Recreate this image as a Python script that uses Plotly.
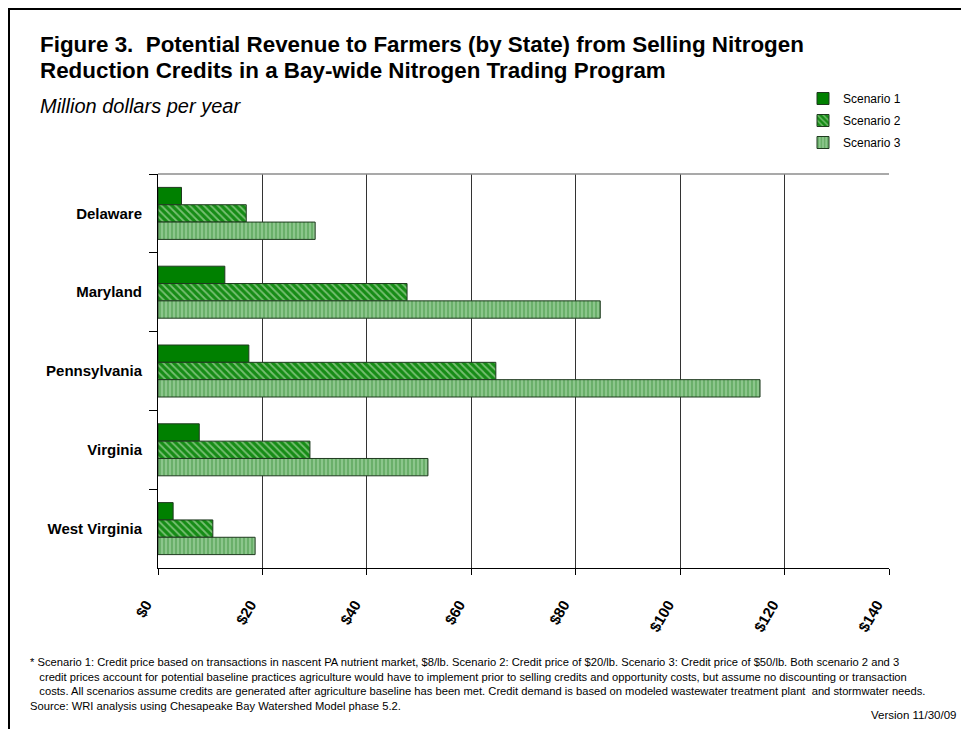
import plotly.graph_objects as go

states = ["Delaware", "Maryland", "Pennsylvania", "Virginia", "West Virginia"]
scenario1 = [4.5, 12.8, 17.4, 7.9, 2.9]
scenario2 = [16.9, 47.7, 64.7, 29.1, 10.5]
scenario3 = [30.1, 84.7, 115.3, 51.7, 18.6]
series_names = ["Scenario 1", "Scenario 2", "Scenario 3"]
x_tickvals = [0, 20, 40, 60, 80, 100, 120, 140]
x_ticktext = ["$0", "$20", "$40", "$60", "$80", "$100", "$120", "$140"]

# page body adds an 8px margin; figure is sized to fit the 969x729 window
OFF = 8
W, H = 969 - OFF, 729 - OFF
L, R, T, B = 158, 889, 174, 568   # plot area in window pixels

def px(x):
    return (x - L) / (R - L)

def py(y):
    return (B - y) / (B - T)

FONT = "Liberation Sans, Arial, sans-serif"
outline = dict(color="#1f3a1f", width=1)

fig = go.Figure()
fig.add_trace(go.Bar(
    y=states, x=scenario1, name=series_names[0], orientation="h", legendgroup="a",
    marker=dict(color="#008000", line=outline),
))
fig.add_trace(go.Bar(
    y=states, x=scenario2, name=series_names[1], orientation="h", legendgroup="b",
    marker=dict(color="#d9f2d0", line=outline,
                pattern=dict(shape="\\", bgcolor="#168c16", fgcolor="#d9f2d0",
                             size=5, solidity=0.35)),
))
fig.add_trace(go.Bar(
    y=states, x=scenario3, name=series_names[2], orientation="h", legendgroup="c",
    marker=dict(color="#1a7a1a", line=outline,
                pattern=dict(shape="|", bgcolor="#8cc68c", fgcolor="#1a7a1a",
                             size=4, solidity=0.3)),
))

fig.update_layout(
    width=W, height=H,
    margin=dict(l=L - OFF, r=W - (R - OFF), t=T - OFF, b=H - (B - OFF), pad=0),
    paper_bgcolor="white", plot_bgcolor="white",
    barmode="group", bargap=0.34, bargroupgap=0,
    font=dict(family=FONT, color="black"),
    showlegend=True,
    legend=dict(x=px(803), y=py(84), xanchor="left", yanchor="top",
                font=dict(size=12, family=FONT), tracegroupgap=3,
                bgcolor="rgba(0,0,0,0)", itemwidth=30),
    xaxis=dict(range=[0, 140], tickvals=x_tickvals, ticktext=x_ticktext,
               tickangle=-60, ticks="outside", ticklen=6, tickcolor="black",
               ticklabelstandoff=15, ticklabelshift=-12,
               showgrid=True, gridcolor="#333333", gridwidth=1,
               showline=True, linecolor="black", linewidth=1, mirror=False,
               zeroline=False,
               tickfont=dict(size=15, family=FONT, color="black", weight="bold")),
    yaxis=dict(categoryorder="array", categoryarray=states, autorange="reversed",
               tickson="boundaries", ticks="outside", ticklen=8, tickcolor="black",
               showline=True, linecolor="black", linewidth=1, showgrid=False,
               ticklabelstandoff=12,
               tickfont=dict(size=15, family=FONT, color="black", weight="bold")),
)

# plot frame: top gray line
fig.add_shape(type="line", xref="x domain", yref="y domain", x0=0, x1=1, y0=1, y1=1,
              line=dict(color="#8c8c8c", width=1.5))
# page border
fig.add_shape(type="rect", xref="paper", yref="paper",
              x0=px(9), x1=px(990), y0=py(9), y1=py(760),
              line=dict(color="black", width=2), layer="below")

fig.add_annotation(xref="paper", yref="paper", x=px(38), y=py(30), xanchor="left", yanchor="top",
                   align="left", showarrow=False,
                   text="<b>Figure 3.  Potential Revenue to Farmers (by State) from Selling Nitrogen</b>",
                   font=dict(size=22.4, family=FONT, color="black"))
fig.add_annotation(xref="paper", yref="paper", x=px(38), y=py(56), xanchor="left", yanchor="top",
                   align="left", showarrow=False,
                   text="<b>Reduction Credits in a Bay-wide Nitrogen Trading Program</b>",
                   font=dict(size=22.4, family=FONT, color="black"))
fig.add_annotation(xref="paper", yref="paper", x=px(38), y=py(93), xanchor="left", yanchor="top",
                   align="left", showarrow=False,
                   text="<i>Million dollars per year</i>",
                   font=dict(size=20, family=FONT, color="black"))

foot = ("* Scenario 1: Credit price based on transactions in nascent PA nutrient market, $8/lb. Scenario 2: Credit price of $20/lb. Scenario 3: Credit price of $50/lb. Both scenario 2 and 3<br>"
        "   credit prices account for potential baseline practices agriculture would have to implement prior to selling credits and opportunity costs, but assume no discounting or transaction<br>"
        "   costs. All scenarios assume credits are generated after agriculture baseline has been met. Credit demand is based on modeled wastewater treatment plant  and stormwater needs.<br>"
        "Source: WRI analysis using Chesapeake Bay Watershed Model phase 5.2.")
fig.add_annotation(xref="paper", yref="paper", x=px(28), y=py(654), xanchor="left", yanchor="top",
                   align="left", showarrow=False, text=foot,
                   font=dict(size=11.2, family=FONT, color="black"))
fig.add_annotation(xref="paper", yref="paper", x=px(958), y=py(707), xanchor="right", yanchor="top",
                   align="right", showarrow=False, text="Version 11/30/09",
                   font=dict(size=11.5, family=FONT, color="black"))

fig.write_html("out.html")
